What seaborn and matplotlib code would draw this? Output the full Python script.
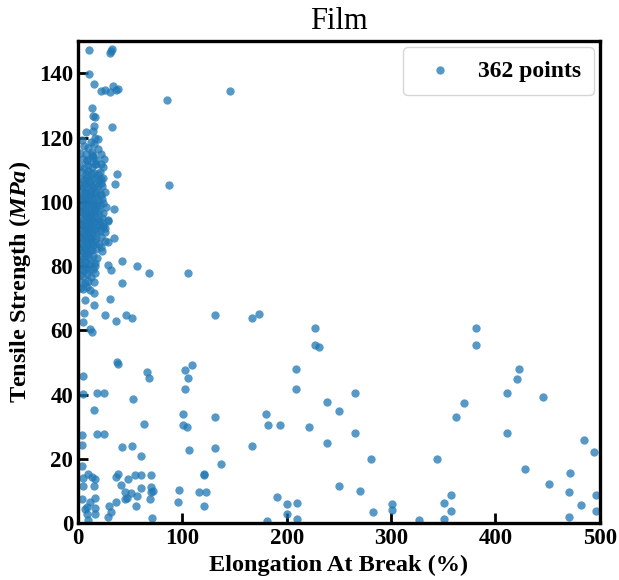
import numpy as np
import pandas as pd
import matplotlib
matplotlib.use("Agg")
import matplotlib.pyplot as plt
import seaborn as sns

# --- scattered points (elongation %, tensile MPa) ---
spread_elong = [
    10.8, 32.3, 31.6, 30.4, 10.8, 15.6, 22.3, 25.6, 30.7, 33.8, 36.1, 38.6, 85.0, 145.9,
    13.1, 14.7, 16.6, 15.3, 14.1, 7.4, 32.3, 19.2, 13.1, 14.7, 8.9, 16.3, 22.0, 37.6,
    35.4, 22.0, 22.0, 87.5, 22.0, 24.2, 34.8, 29.0, 20.8, 24.2, 25.6, 34.8, 25.6, 28.4,
    21.7, 42.4, 29.0, 31.6, 56.5, 68.3, 105.7, 41.9, 16.3, 16.6, 11.5, 15.6, 30.9, 6.7,
    15.3, 5.7, 26.1, 46.0, 51.7, 36.1, 5.1, 11.5, 13.4,
    37.1, 38.6, 109.5, 130.9, 166.7, 173.1, 227.3, 227.3, 230.8, 5.1, 65.8, 68.3, 102.5,
    105.4, 102.8, 5.1, 18.5, 24.6, 52.4, 15.6, 100.9, 63.2, 100.9, 104.1, 18.5, 24.6,
    4.1, 4.1, 41.9, 51.7, 60.1, 106.6, 4.1, 9.9, 13.1, 16.3, 5.1, 36.1, 38.0, 54.9, 60.1,
    69.6, 47.6, 120.7, 120.5, 5.1, 15.6, 40.9, 69.6, 60.1, 45.0, 50.5, 69.9, 71.6, 97.0,
    115.9, 122.3, 4.1, 16.3, 11.5, 56.8, 45.0, 47.2, 69.0, 95.5, 8.9, 6.7, 16.6, 29.7,
    36.1, 55.3, 120.7, 31.6, 29.0, 16.6, 8.3, 9.9, 71.2,
    208.5, 208.5, 265.3, 238.5, 250.0, 130.9, 179.8, 181.7, 193.8, 221.0, 265.3, 130.9,
    166.7, 238.5, 137.0, 280.4, 250.0, 270.4, 190.6, 200.5, 210.1, 200.5, 210.1, 180.7,
    282.9,
    381.5, 381.5, 422.7, 420.2, 410.6, 445.4, 369.7, 362.4, 410.6, 484.4, 494.5, 343.6,
    428.4, 471.6, 450.9, 470.3, 496.5, 357.0, 350.9, 357.0, 482.1, 496.5, 300.5, 300.5,
    326.6, 350.9, 470.3,
]
spread_tensile = [
    147.4, 147.6, 146.9, 146.4, 139.7, 136.6, 134.5, 134.7, 134.2, 136.0, 134.7, 135.2, 131.6, 134.4,
    129.2, 126.7, 126.5, 123.6, 122.0, 121.6, 123.3, 119.7, 114.6, 114.3, 113.0, 111.7, 111.7, 108.8,
    105.7, 107.1, 105.8, 105.2, 102.1, 99.5, 97.7, 93.9, 93.9, 92.5, 91.8, 88.7, 87.7, 87.4,
    86.1, 81.7, 80.3, 78.8, 80.0, 77.7, 77.7, 74.8, 77.9, 80.0, 72.6, 71.7, 69.8, 69.6,
    67.8, 65.3, 64.9, 64.9, 63.8, 62.8, 62.7, 60.5, 59.6,
    50.1, 49.5, 49.1, 64.8, 63.8, 65.0, 60.7, 55.6, 54.8, 45.7, 47.0, 45.2, 47.8,
    45.2, 41.8, 40.3, 40.6, 40.6, 38.7, 35.1, 34.1, 31.0, 30.7, 29.9, 27.9, 27.9,
    27.3, 24.2, 23.6, 24.0, 20.9, 22.7, 17.8, 15.4, 14.4, 13.6, 14.1, 14.3, 15.2, 15.1, 15.1,
    15.1, 13.6, 15.1, 15.3, 11.5, 11.7, 12.0, 11.1, 11.0, 9.7, 9.5, 9.7, 9.9, 10.2,
    9.7, 9.7, 7.5, 7.7, 6.6, 8.5, 7.4, 7.7, 7.4, 6.6, 5.1, 4.3, 4.6, 5.4,
    6.6, 5.4, 5.4, 3.5, 2.0, 2.7, 2.7, 0.9, 1.6,
    47.9, 41.9, 40.6, 37.7, 35.0, 32.9, 33.9, 30.7, 30.5, 29.9, 28.0, 23.5,
    24.0, 24.8, 18.5, 19.9, 11.6, 10.0, 8.0, 6.1, 6.3, 2.7, 1.2, 0.6,
    3.5,
    60.7, 55.6, 47.9, 44.8, 40.6, 39.2, 37.4, 32.9, 28.0, 26.0, 22.1, 19.9,
    17.0, 15.6, 12.1, 9.8, 8.9, 8.9, 6.3, 3.8, 5.7, 3.8, 6.0, 4.0,
    1.1, 1.2, 1.8,
]

# --- dense cluster near the y axis (estimated) ---
cluster_elong = [
    4, 12, 16,
    6, 10, 15, 19,
    2, 8, 13, 22,
    5, 9, 14, 17, 25,
    2, 6, 10, 13, 17, 24,
    4, 8, 10, 12, 15, 19, 21,
    2.5, 6, 8.5, 11, 13, 16, 20, 24,
    1, 4.5, 7, 9, 12, 14, 16.5, 19, 23,
    3, 5.5, 8, 10.5, 12.5, 15, 17.5, 21, 26,
    1.5, 4, 6.5, 9, 11, 13.5, 16, 19, 23,
    2.5, 5, 7.5, 9.5, 12, 14, 16, 18, 21, 27,
    2, 4, 6.5, 8, 10.5, 12.5, 15, 17.5, 20, 24,
    3, 5.5, 8.5, 10, 12, 13.5, 16, 19, 23, 29,
    1.5, 4, 6.5, 8, 10.5, 12, 14.5, 17, 20, 24,
    2.5, 5, 7.5, 9.5, 11.5, 13.5, 16, 18.5, 21, 26,
    2, 4, 6.5, 8.5, 10.5, 12.5, 14.5, 17, 22,
    2.5, 5, 8, 10, 12, 14, 16, 20,
    1.5, 4.5, 6.5, 9, 11.5, 13.5, 17, 23,
    3, 6, 8, 10.5, 14, 18,
    2, 4, 7, 9.5, 12, 16,
    2.5, 5, 8, 11, 14,
    1.5, 4.5, 8.5, 12,
    3, 6.5, 10, 15,
    2, 5, 9,
]
cluster_tensile = [
    119.2, 118.6, 119.8,
    117.4, 116.8, 117.9, 116.5,
    115.3, 114.8, 115.6, 115.0,
    113.2, 112.7, 113.6, 112.9, 113.4,
    111.1, 110.6, 111.4, 110.8, 111.7, 110.9,
    109.3, 108.7, 109.5, 108.9, 109.1, 108.6, 109.4,
    107.2, 106.8, 107.5, 106.6, 107.1, 107.4, 106.9, 107.3,
    105.1, 104.7, 105.4, 104.9, 105.3, 104.6, 105.2, 104.8, 105.0,
    103.3, 102.8, 103.1, 102.7, 103.4, 102.9, 103.2, 102.6, 103.0,
    101.2, 100.8, 101.4, 100.6, 101.1, 100.9, 101.3, 100.7, 101.0,
    99.1, 98.7, 99.4, 98.9, 99.2, 98.6, 99.3, 98.8, 99.0, 98.5,
    97.2, 96.8, 97.4, 96.6, 97.1, 96.9, 97.3, 96.7, 97.0, 96.5,
    95.1, 94.7, 95.3, 94.9, 95.2, 94.6, 95.4, 94.8, 95.0, 94.5,
    93.2, 92.8, 93.4, 92.6, 93.1, 92.9, 93.3, 92.7, 93.0, 92.5,
    91.1, 90.7, 91.3, 90.9, 91.2, 90.6, 91.4, 90.8, 91.0, 90.5,
    89.2, 88.8, 89.4, 88.6, 89.1, 88.9, 89.3, 88.7, 89.0,
    87.1, 86.7, 87.3, 86.9, 87.2, 86.6, 87.4, 86.8,
    85.2, 84.8, 85.4, 84.6, 85.1, 84.9, 85.3, 84.7,
    83.1, 82.7, 83.3, 82.9, 83.2, 82.6,
    81.2, 80.8, 81.4, 80.6, 81.1, 80.9,
    79.1, 78.7, 79.3, 78.9, 79.2,
    77.2, 76.8, 77.4, 76.6,
    75.1, 74.7, 75.3, 74.9,
    73.2, 72.8, 73.4,
]

elong = spread_elong + cluster_elong
tensile = spread_tensile + cluster_tensile
df = pd.DataFrame({"elong": elong, "tensile": tensile})

sns.set_style("ticks")
plt.rcParams["font.family"] = ["Liberation Serif", "DejaVu Serif"]
plt.rcParams["mathtext.fontset"] = "custom"
plt.rcParams["mathtext.bfit"] = "Liberation Serif:bold:italic"
for key in ["text.color", "axes.labelcolor", "xtick.color", "ytick.color", "axes.edgecolor"]:
    plt.rcParams[key] = "black"

fig = plt.figure(figsize=(6.19, 5.80), dpi=100)
ax = fig.add_axes([0.126, 0.098, 0.843, 0.831])

sns.scatterplot(data=df, x="elong", y="tensile", ax=ax, color="#1f77b4",
                alpha=0.75, s=36, linewidth=0, label=f"{len(df)} points")

ax.set_xlim(0, 500)
ax.set_ylim(0, 150)
ax.set_xticks([0, 100, 200, 300, 400, 500])
ax.set_yticks([0, 20, 40, 60, 80, 100, 120, 140])
ax.tick_params(direction="in", length=7, width=2, labelsize=16.5)
for lab in ax.get_xticklabels() + ax.get_yticklabels():
    lab.set_fontweight("bold")
for sp in ax.spines.values():
    sp.set_linewidth(2.4)
    sp.set_visible(True)

ax.set_title("Film", fontsize=22, pad=9)
ax.set_xlabel("Elongation At Break (%)", fontsize=17.5, fontweight="bold", labelpad=4)
ax.set_ylabel(r"Tensile Strength ($\mathbfit{MPa}$)", fontsize=17.5, fontweight="bold", labelpad=4)

leg = ax.legend(loc="upper right", prop={"weight": "bold", "size": 17},
                markerscale=1.0, handletextpad=0.6, borderpad=0.55,
                borderaxespad=0.25, fancybox=True)
leg.get_frame().set_edgecolor("#cccccc")

plt.savefig("out.png", dpi=100)
